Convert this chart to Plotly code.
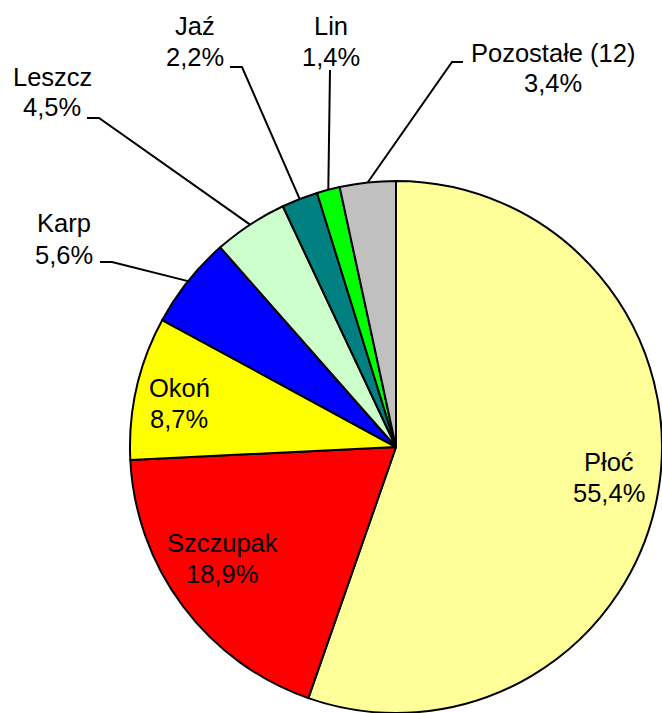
import math
import plotly.graph_objects as go

# udział gatunków (%)
species = ["Płoć", "Szczupak", "Okoń", "Karp", "Leszcz", "Jaź", "Lin", "Pozostałe (12)"]
shares = [55.4, 18.9, 8.7, 5.6, 4.5, 2.2, 1.4, 3.4]
colors = ["#FFFF99", "#FF0000", "#FFFF00", "#0000FF", "#CCFFCC", "#008080", "#00FF00", "#C0C0C0"]

W, H = 662, 713
CX, CY, R = 396, 447, 266  # pie centre / radius in px (from top-left)
FS = 25.5
LINE_GAP = 31

# label centres in px, and leader elbow points (None = label inside slice)
label_pos = [(609, 477), (222, 558), (179, 403), (64, 239), (52, 92), (195, 41), (331, 41), (553, 68)]
elbows = [None, None, None,
          [(112, 262), (100, 262)],
          [(99, 118), (87, 118)],
          [(242, 67), (230, 67)],
          [(330, 70)],
          [(452, 62), (463, 62)]]


def px(x, y):
    return x / W, 1 - y / H


fig = go.Figure()
fig.add_trace(go.Pie(
    labels=species, values=shares, sort=False, direction="clockwise", rotation=0,
    marker=dict(colors=colors, line=dict(color="black", width=2)),
    textinfo="none", hoverinfo="skip", showlegend=False,
    domain=dict(x=[(CX - R) / W, (CX + R) / W], y=[(H - CY - R) / H, (H - CY + R) / H]),
))

total = sum(shares)
cum = 0.0
shapes, annotations = [], []
for name, val, pos, elbow in zip(species, shares, label_pos, elbows):
    mid = (cum + val / 2) / total * 2 * math.pi
    cum += val
    pct = f"{val:.1f}%".replace(".", ",")
    for i, line in enumerate([name, pct]):
        ax, ay = px(pos[0], pos[1] + (i - 0.5) * LINE_GAP)
        annotations.append(dict(x=ax, y=ay, xref="paper", yref="paper", text=line, showarrow=False,
                                xanchor="center", yanchor="middle",
                                font=dict(family="Liberation Sans, Arial", size=FS, color="black")))
    if elbow:
        # leader from slice edge at bisector to the label
        pts = [(CX + R * math.sin(mid), CY - R * math.cos(mid))] + elbow
        path = "M " + " L ".join(f"{px(x, y)[0]},{px(x, y)[1]}" for x, y in pts)
        shapes.append(dict(type="path", path=path, xref="paper", yref="paper",
                           line=dict(color="black", width=2)))

fig.update_layout(width=W, height=H, margin=dict(l=0, r=0, t=0, b=0),
                  paper_bgcolor="white", plot_bgcolor="white",
                  shapes=shapes, annotations=annotations)
fig.write_html("out.html", config={"displayModeBar": False},
               post_script="document.body.style.margin='0';")
